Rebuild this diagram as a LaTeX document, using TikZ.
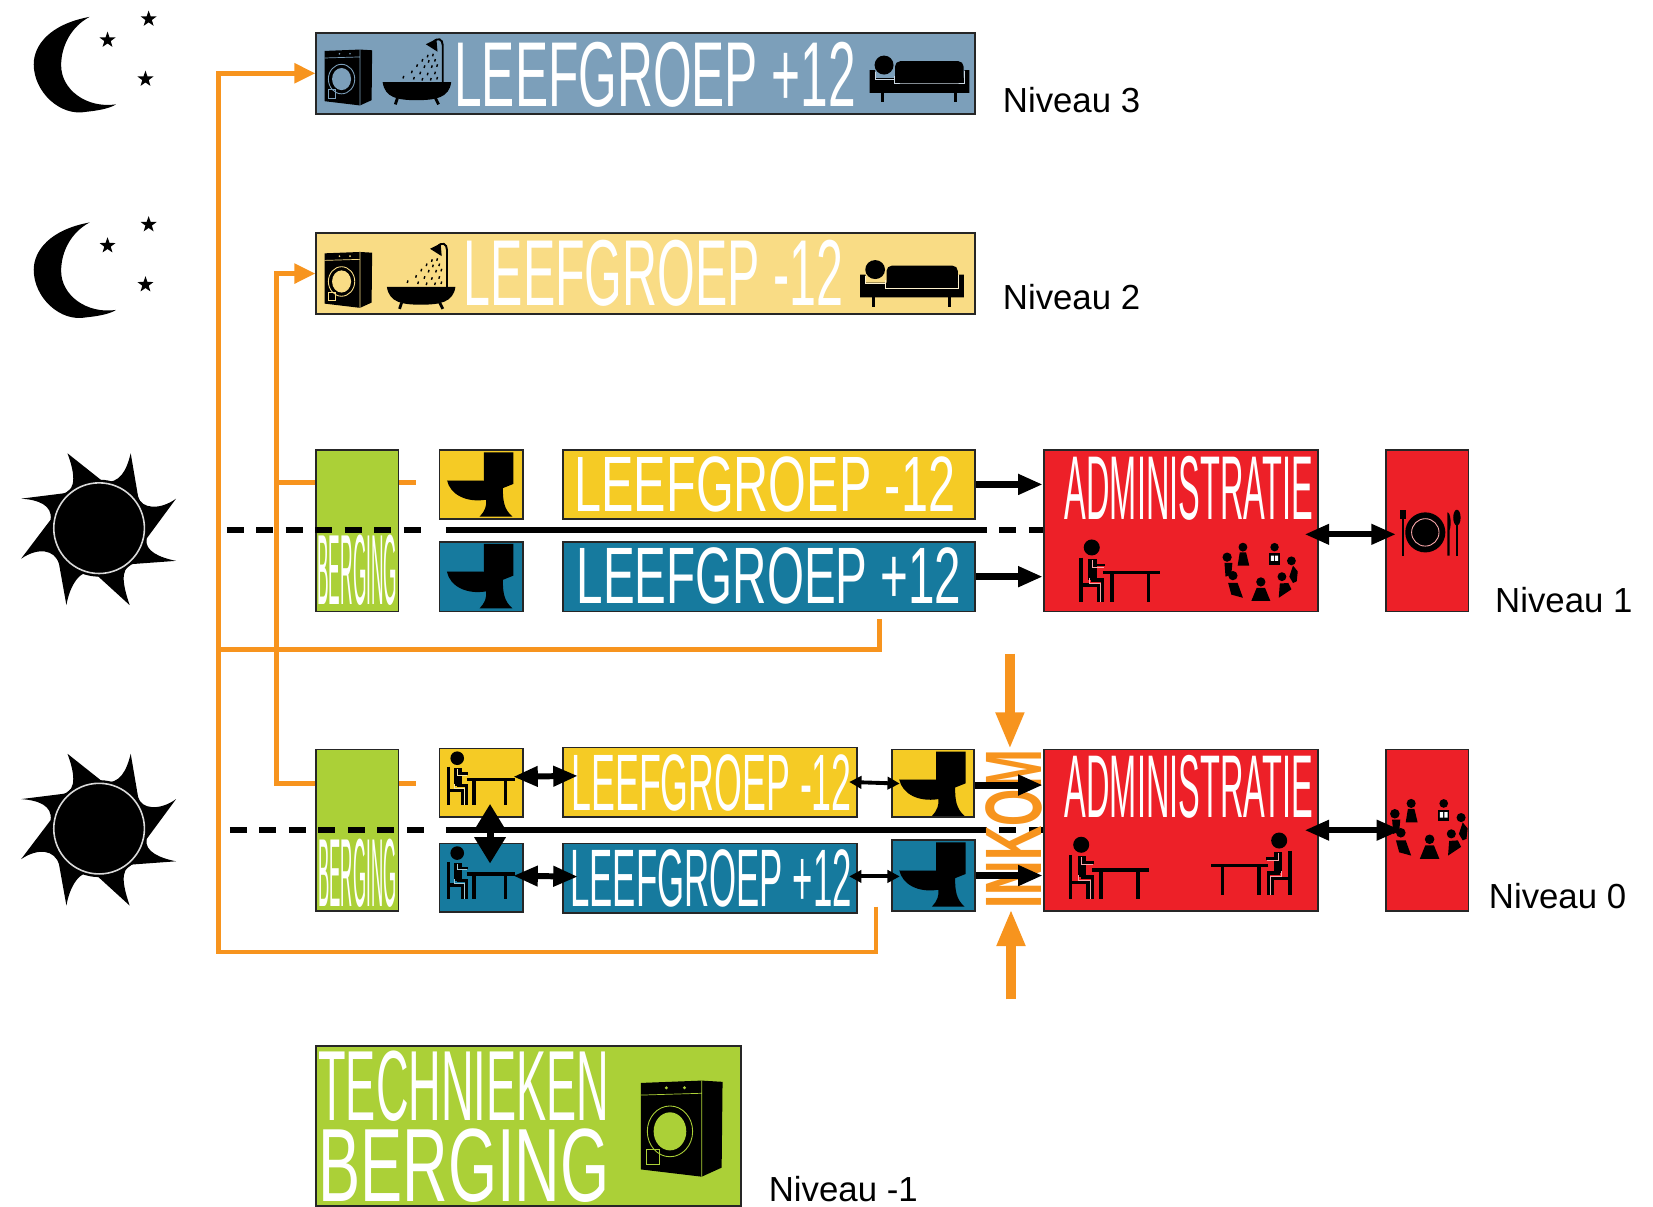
\documentclass[tikz,border=0pt]{standalone}
\usepackage{graphicx}
\usepackage{fontspec}
\setmainfont{Liberation Sans}
\usetikzlibrary{arrows.meta}
\newlength\pxunit
\setlength\pxunit{0.021084cm}
\newcommand\tekst[3]{\resizebox{#1\pxunit}{#2\pxunit}{#3}}
\definecolor{grijsblauw}{HTML}{7C9FBA}
\definecolor{lichtgeel}{HTML}{F9DC85}
\definecolor{geel}{HTML}{F5CB25}
\definecolor{blauw}{HTML}{167A9E}
\definecolor{groen}{HTML}{ABD037}
\definecolor{rood}{HTML}{ED2028}
\definecolor{oranje}{HTML}{F7941E}
\tikzset{
wh/.style 2 args={minimum width=#1*\pxunit,minimum height=#2*\pxunit},
kader/.style={draw=black!85,line width=1pt,inner sep=0pt},
letters/.style={text=white,inner sep=0pt},
niveau/.style={anchor=base west,inner sep=0pt,font=\fontsize{19.8}{24}\selectfont},
oranjelijn/.style={draw=oranje,line width=2.7pt},
oranjepijl/.style={oranjelijn,-{Triangle[length=12pt,width=11pt]}},
ingang/.style={draw=oranje,line width=5.4pt,-{Triangle[length=21pt,width=15pt]}},
pijl/.style={line width=4pt,-{Triangle[length=14pt,width=11pt]}},
dubbel/.style={line width=3.4pt,{Triangle[length=14pt,width=11pt]}-{Triangle[length=14pt,width=11pt]}},
dun/.style={line width=2.2pt,{Triangle[length=7pt,width=7pt]}-{Triangle[length=7pt,width=7pt]}},
streep/.style={line width=3.6pt,dash pattern=on 9.6pt off 7.2pt},
pics/maan/.style={code={
  \fill (53,1) .. controls (15,8) and (0,28) .. (0,46) .. controls (0,72) and (25,96) .. (50,91) .. controls (60,90) and (72,88) .. (78,84) .. controls (50,88) and (26,70) .. (26,47) .. controls (26,28) and (36,10) .. (53,1) -- cycle;
  \foreach \sx/\sy in {109/3,70/23,106/60}{
    \fill[shift={(\sx,\sy)}] (-90:8) -- (-54:3.2) -- (-18:8) -- (18:3.2) -- (54:8) -- (90:3.2) -- (126:8) -- (162:3.2) -- (198:8) -- (234:3.2) -- cycle;
  }
}},
pics/zon/.style={code={
  \fill (-30,-71) -- (4,-44) .. controls (20,-42) and (26,-55) .. (30,-71)
    -- (37,-30) .. controls (40,-18) and (58,-17) .. (73,-28)
    -- (45,10) .. controls (43,22) and (58,28) .. (73,31)
    -- (32,34) .. controls (18,38) and (24,58) .. (29,73)
    -- (-5,42) .. controls (-18,38) and (-28,55) .. (-31,73)
    -- (-38,34) .. controls (-42,20) and (-58,18) .. (-74,29)
    -- (-46,-8) .. controls (-44,-22) and (-58,-27) .. (-74,-28)
    -- (-34,-33) .. controls (-20,-36) and (-24,-55) .. (-30,-71) -- cycle;
  \fill (0,0) circle (46);
  \draw[black!15,line width=.9pt] (0,0) circle (43);
}},
pics/wasmachine/.style={code={
  \fill (0,1.3) -- (33.5,0) -- (45,.7) -- (44.5,48) -- (33.5,53) -- (0,49) -- cycle;
  \draw[#1,line width=.4pt] (33.5,0) -- (33.5,53) (0,8) -- (33.5,7);
  \draw[#1,line width=.5pt] (16,28) ellipse (12.5 and 14);
  \fill[#1] (16,28) ellipse (9 and 10.5);
  \draw[#1,line width=.4pt] (3,38) rectangle (10,46);
  \fill[#1] (14,4) circle (.9) (24,4) circle (.9);
}},
pics/bad/.style={code={
  \fill (0,43) -- (65,43) .. controls (63,58) and (50,60) .. (32,60) .. controls (15,60) and (2,58) .. (0,43) -- cycle;
  \draw[line width=1.6pt] (14,58) -- (12,64) (50,58) -- (53,64);
  \draw[line width=1.1pt] (57,43) -- (57,8) .. controls (57,2) and (52,0) .. (48,5);
  \fill (41,7) -- (51,2) -- (52,14) -- cycle;
  \foreach \dx/\dy in {43/17,48/16,38/21,44/22,50/21,33/26,40/27,47/27,52/26,28/32,36/33,43/34,50/33,20/37,30/38,38/39,46/39,52/38}{
    \draw[line width=.8pt] (\dx,\dy) -- ++(-.7,2.4);
  }
}},
pics/bed/.style={code={
  \fill (0,14.5) -- (5,14.5) -- (5,22) -- (89,22) -- (90,14.5) -- (94.5,14.5) -- (94.5,36) -- (0,36) -- cycle;
  \draw[#1!40!white,line width=.5pt] (5,16) -- (5,23) -- (23,23) (23,20) -- (23,27.5) -- (90,27.5) -- (90,15);
  \fill[rounded corners=3pt] (24,6) rectangle (89,27);
  \fill (13.6,9.7) circle (9);
  \draw[line width=1.4pt] (12,36) -- (12,45) (81.5,36) -- (81.5,45);
}},
pics/wc/.style={code={
  \fill (42,2) -- (70,2) -- (70,32) -- (60,36) .. controls (60,48) and (61,56) .. (69,63) -- (38,63) .. controls (43,58) and (45,52) .. (44,47) .. controls (25,50) and (10,42) .. (7,28.5) -- (42,28.5) -- cycle;
  \draw[#1!60!black,line width=.5pt] (7,28.5) -- (42,28.5);
}},
pics/bureau/.style={code={
  \fill (12.6,7.3) circle (7.6);
  \draw[line width=1.9pt] (2.5,17) -- (2.5,59) (2.5,43) -- (19,43) -- (19,59);
  \fill (9.5,18) rectangle (17.5,38);
  \draw[line width=1.9pt] (12,38) -- (23,38) -- (23,59);
  \draw[line width=1.6pt] (17.5,24) -- (25,24);
  \draw[#1!40!white,line width=.5pt] (13,19) -- (13,26) -- (24,26) (10,36) -- (10,41) -- (21,41) -- (21,59);
  \draw[line width=2.2pt] (23,31) -- (77,31) (31.6,31) -- (31.6,59) (66.4,31) -- (66.4,59);
}},
pics/groep/.style={code={
  \fill (4,13.5) circle (4.4) (19,4) circle (4.2) (49,4) circle (4) (65,17) circle (4.2) (56,32) circle (4.2) (36,37) circle (4.4) (9.5,31) circle (4.4);
  \fill (1.5,19) -- (9,19) -- (8,30) -- (2.5,32) -- cycle;
  \fill (16,9) -- (22,9) -- (25,21.5) -- (14,21.5) -- cycle;
  \fill (44,10) rectangle (54,20.5);
  \fill[white] (45.5,12) rectangle (48.5,17) (49.5,12) rectangle (52.5,17);
  \fill (66.5,21.5) -- (71,27) -- (70,36.5) -- (66.5,38) -- (63,32) -- cycle;
  \fill (54,38.5) -- (62,38) -- (65,44) -- (53,52) -- cycle;
  \fill (32,42.7) -- (40,42.7) -- (45,55) -- (27,55) -- cycle;
  \fill (5,38) -- (14,38) -- (19,52) -- (8,49) -- cycle;
}},
pics/bord/.style={code={
  \fill (25,22) circle (19);
  \draw[#1!40!white,line width=.5pt] (25,22) circle (13);
  \draw[line width=1.3pt] (4,8) -- (4,44);
  \fill (1,1) rectangle (7,9);
  \fill (46,3) .. controls (49,3) and (50,15) .. (48,20) -- (48,44) -- (46,44) -- cycle;
  \fill (55,8) ellipse (3.5 and 7.5);
  \draw[line width=1.4pt] (55,14) -- (55,44);
}}
}
\begin{document}
\begin{tikzpicture}[x=0.021084cm,y=-0.021084cm]
\useasboundingbox (0,0) rectangle (1568,1144);
% Moons and suns
\pic at (32,15) {maan};
\pic at (32,210) {maan};
\pic at (94,501) {zon};
\pic at (94,786) {zon};
% Niveau 3
\node[kader,fill=grijsblauw,wh={625}{77}] (n3) at (612.5,69.5) {};
\node[letters] (n3t) at (621.5,70.5) {\tekst{381}{61}{LEEFGROEP +12}};
\pic at (308,47) {wasmachine=grijsblauw};
\pic at (363,35) {bad=grijsblauw};
\pic at (825,52) {bed=grijsblauw};
\node[niveau] (l3) at (951,107) {Niveau 3};
% Niveau 2
\node[kader,fill=lichtgeel,wh={625}{77}] (n2) at (612.5,259.5) {};
\node[letters] (n2t) at (620,259) {\tekst{360}{62}{LEEFGROEP -12}};
\pic at (308,239) {wasmachine=lichtgeel};
\pic at (367,229) {bad=lichtgeel};
\pic[xscale=1.04] at (816,246) {bed=lichtgeel};
\node[niveau] (l2) at (951,294) {Niveau 2};
% Niveau 1
\node[kader,fill=groen,wh={78}{153}] (berg1) at (339,503.5) {};
\node[letters] (berg1t) at (339,541) {\tekst{76}{66}{BERGING}};
\node[kader,fill=geel,wh={79}{65}] (wcmin1) at (456.5,459.5) {};
\node[kader,fill=blauw,wh={79}{66}] (wcplus1) at (456.5,547) {};
\pic at (417,427) {wc=geel};
\pic at (417,514) {wc=blauw};
\node[kader,fill=geel,wh={391}{65}] (lgmin1) at (729.5,459.5) {};
\node[letters] (lgmin1t) at (725.5,460) {\tekst{361}{52}{LEEFGROEP -12}};
\node[kader,fill=blauw,wh={391}{66}] (lgplus1) at (729.5,547) {};
\node[letters] (lgplus1t) at (729.5,546.5) {\tekst{365}{53}{LEEFGROEP +12}};
\node[kader,fill=rood,wh={260}{153}] (adm1) at (1120,503.5) {};
\node[letters] (adm1t) at (1128,463) {\tekst{236}{60}{ADMINISTRATIE}};
\pic at (1023,512) {bureau=rood};
\pic at (1160,515) {groep=rood};
\node[kader,fill=rood,wh={78}{153}] (eet1) at (1354,503.5) {};
\pic at (1327,483) {bord=rood};
\node[niveau] (l1) at (1418,581) {Niveau 1};
% Niveau 0
\node[kader,fill=groen,wh={78}{153}] (berg0) at (339,787.5) {};
\node[letters] (berg0t) at (339,828) {\tekst{74}{64}{BERGING}};
\node[kader,fill=geel,wh={79}{65}] (bureaumin) at (456.5,742.5) {};
\node[kader,fill=blauw,wh={79}{65}] (bureauplus) at (456.5,832.5) {};
\pic[scale=.85] at (423,713) {bureau=geel};
\pic[scale=.85] at (423,803) {bureau=blauw};
\node[kader,fill=geel,wh={279}{66}] (lgmin0) at (673.5,742) {};
\node[letters] (lgmin0t) at (675,742.5) {\tekst{266}{53}{LEEFGROEP -12}};
\node[kader,fill=blauw,wh={279}{66}] (lgplus0) at (673.5,833) {};
\node[letters] (lgplus0t) at (674.5,833) {\tekst{267}{54}{LEEFGROEP +12}};
\node[kader,fill=geel,wh={78}{64}] (wcmin0) at (885,743) {};
\node[kader,fill=blauw,wh={79}{67}] (wcplus0) at (885.5,830.5) {};
\pic at (846,711) {wc=geel};
\pic at (846,797) {wc=blauw};
\node[kader,fill=rood,wh={260}{153}] (adm0) at (1120,787.5) {};
\node[letters] (adm0t) at (1128,746.5) {\tekst{236}{59}{ADMINISTRATIE}};
\pic at (1013,794) {bureau=rood};
\pic[xscale=-1] at (1226,790) {bureau=rood};
\node[kader,fill=rood,wh={78}{153}] (eet0) at (1354,787.5) {};
\pic[scale=1.03] at (1319,758) {groep=rood};
\node[niveau] (l0) at (1412,862) {Niveau 0};
% Niveau -1
\node[kader,fill=groen,wh={403}{152}] (tech) at (501.5,1068) {};
\node[letters] (techt) at (440,1030) {\tekst{276}{66}{TECHNIEKEN}};
\node[letters] (techb) at (440,1106) {\tekst{276}{69}{BERGING}};
\pic[scale=1.72] at (608,1025) {wasmachine=groen};
\node[niveau] (lm1) at (729,1140) {Niveau -1};
% Orange routes
\coordinate (hoekH) at (207,903);
\coordinate (hoekV) at (262,743);
\coordinate (hoekR) at (207,616);
\coordinate (eindB) at (831,860);
\coordinate (eindA) at (834,587);
\coordinate (stub1) at (395,458);
\coordinate (stub0) at (395,743);
\draw[oranjepijl] (eindB) |- (hoekH) |- (n3.west);
\draw[oranjelijn] (eindA) |- (hoekR);
\draw[oranjepijl] (berg0.west |- hoekV) -- (hoekV) |- (n2.west);
\draw[oranjelijn] (berg1.west |- stub1) -- (hoekV |- stub1);
\draw[oranjelijn] (berg1.east |- stub1) -- (stub1);
\draw[oranjelijn] (berg0.east |- stub0) -- (stub0);
% Floor lines
\coordinate (vloerA1) at (215,503);
\coordinate (vloerB1) at (410,503);
\coordinate (vloerC1) at (423,503);
\coordinate (vloerD1) at (936,503);
\coordinate (vloerA0) at (218,787);
\coordinate (vloerB0) at (410,787);
\coordinate (vloerC0) at (423,787);
\coordinate (vloerD0) at (936,787);
\draw[streep] (vloerA1) -- (vloerB1);
\draw[line width=3.6pt] (vloerC1) -- (vloerD1);
\draw[streep,dash phase=9.6pt] (vloerD1) -- (adm1.west |- vloerD1);
\draw[streep] (vloerA0) -- (vloerB0);
\draw[line width=3.6pt] (vloerC0) -- (vloerD0);
\draw[streep,dash phase=9.6pt] (vloerD0) -- (adm0.west |- vloerD0);
% Entrance
\node[text=oranje,inner sep=0pt,rotate=90] (inkom) at (961.5,786.5) {\tekst{151}{53}{\bfseries INKOM}};
\coordinate (ingangB) at (958,620);
\coordinate (ingangO) at (959,948);
\draw[ingang] (ingangB) -- (ingangB |- inkom.east);
\draw[ingang] (ingangO) -- (ingangO |- inkom.west);
% Black arrows
\draw[pijl] (lgmin1.east) -- (adm1.west |- lgmin1.east);
\draw[pijl] (lgplus1.east) -- (adm1.west |- lgplus1.east);
\draw[dubbel,shorten <=-8pt,shorten >=-6pt] ([yshift=-2pt]adm1.east) -- ([yshift=-2pt]eet1.west);
\draw[dubbel,shorten <=-8pt,shorten >=-9pt] (adm0.east) -- (eet0.west);
\draw[dubbel,shorten <=-6pt,shorten >=-9pt] ([yshift=3.5pt]bureaumin.east) -- ([yshift=3.5pt]lgmin0.west);
\draw[dubbel,shorten <=-6pt,shorten >=-9pt] ([yshift=1pt]bureauplus.east) -- ([yshift=1pt]lgplus0.west);
\draw[dubbel,line width=4pt,{Triangle[length=15pt,width=17pt]}-{Triangle[length=15pt,width=17pt]},shorten <=-8pt,shorten >=-12pt] ([xshift=5pt]bureaumin.south) -- ([xshift=5pt]bureauplus.north);
\draw[dun,shorten <=-5pt,shorten >=-5pt] (lgmin0.east) -- (wcmin0.west);
\draw[dun,shorten <=-5pt,shorten >=-5pt] ([yshift=1pt]lgplus0.east) -- ([yshift=1pt]wcplus0.west |- lgplus0.east);
\draw[pijl] ([yshift=-1pt]wcmin0.east) -- ([yshift=-1pt]adm0.west |- wcmin0.east);
\draw[pijl] (wcplus0.east) -- (adm0.west |- wcplus0.east);
\end{tikzpicture}
\end{document}
